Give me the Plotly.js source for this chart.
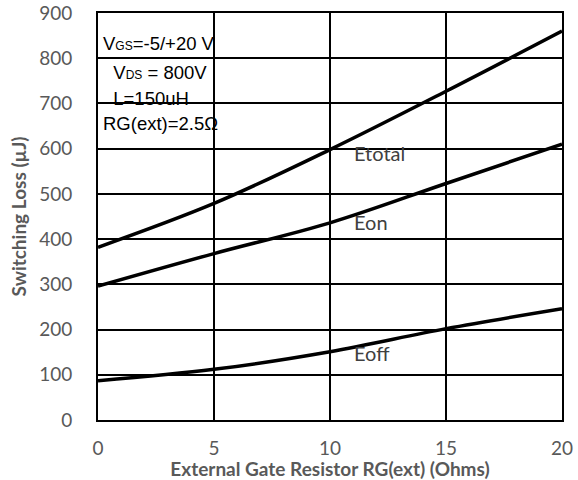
<!DOCTYPE html>
<html>
<head>
<meta charset="utf-8">
<script src="https://cdn.plot.ly/plotly-3.0.1.min.js"></script>
<style>html,body{margin:0;padding:0;background:#fff;}#chart{width:578px;height:480px;}</style>
</head>
<body>
<div id="chart"></div>
<script>
const rg = [0, 5, 10, 15, 20];
const eTotal = [382, 479, 598, 727, 860];
const eOn = [296, 368, 436, 523, 610];
const eOff = [87, 112, 151, 202, 246];
const seriesNames = ['Etotal', 'Eon', 'Eoff'];
const labelX = [10.95, 10.95, 10.95];
const labelY = [591, 437, 148];
const condLines = [
  'V<span style="font-size:12px">GS</span>=-5/+20 V',
  '  V<span style="font-size:12px">DS</span> = 800V',
  '  L=150uH',
  'RG(ext)=2.5Ω'
];
const condY = [832, 768, 711, 655];

const lineStyle = {color: '#000', width: 3.5, shape: 'spline'};
const traces = [eTotal, eOn, eOff].map((v, i) => ({
  x: rg, y: v, type: 'scatter', mode: 'lines', name: seriesNames[i],
  line: lineStyle, hoverinfo: 'skip'
}));

const annotations = seriesNames.map((n, i) => ({
  x: labelX[i], y: labelY[i], xref: 'x', yref: 'y', text: n, showarrow: false,
  xanchor: 'left', yanchor: 'middle',
  font: {family: 'Lato, "Open Sans", sans-serif', size: 20, color: '#404040'}
})).concat(condLines.map((t, i) => ({
  x: 0.15, y: condY[i], xref: 'x', yref: 'y', text: t, showarrow: false,
  xanchor: 'left', yanchor: 'middle',
  font: {family: '"Liberation Sans", Arial, sans-serif', size: 18.5, color: '#000'}
})));

const layout = {
  width: 578, height: 480,
  margin: {l: 98, r: 16, t: 13, b: 60},
  paper_bgcolor: '#fff', plot_bgcolor: '#fff',
  showlegend: false,
  xaxis: {
    range: [0, 20], tickvals: [0, 5, 10, 15, 20],
    showgrid: true, gridcolor: '#000', gridwidth: 2,
    showline: true, linecolor: '#000', linewidth: 2, mirror: true,
    zeroline: false, ticks: '', ticklen: 0, ticklabelstandoff: 10,
    tickfont: {family: 'Lato, "Open Sans", sans-serif', size: 19, color: '#595959'},
    title: {text: 'External Gate Resistor RG(ext) (Ohms)', standoff: 3,
      font: {family: 'Lato, "Open Sans", sans-serif', size: 19, color: '#595959', weight: 'bold'}}
  },
  yaxis: {
    range: [0, 900], dtick: 100,
    showgrid: true, gridcolor: '#000', gridwidth: 2,
    showline: true, linecolor: '#000', linewidth: 2, mirror: true,
    zeroline: false, ticks: '', ticklen: 0, ticklabelstandoff: 20,
    tickfont: {family: 'Lato, "Open Sans", sans-serif', size: 19, color: '#595959'},
    title: {text: 'Switching Loss (µJ)', standoff: 7,
      font: {family: 'Lato, "Open Sans", sans-serif', size: 19, color: '#595959', weight: 'bold'}}
  },
  annotations: annotations
};

Plotly.newPlot('chart', traces, layout, {staticPlot: true, displayModeBar: false});
</script>
</body>
</html>
